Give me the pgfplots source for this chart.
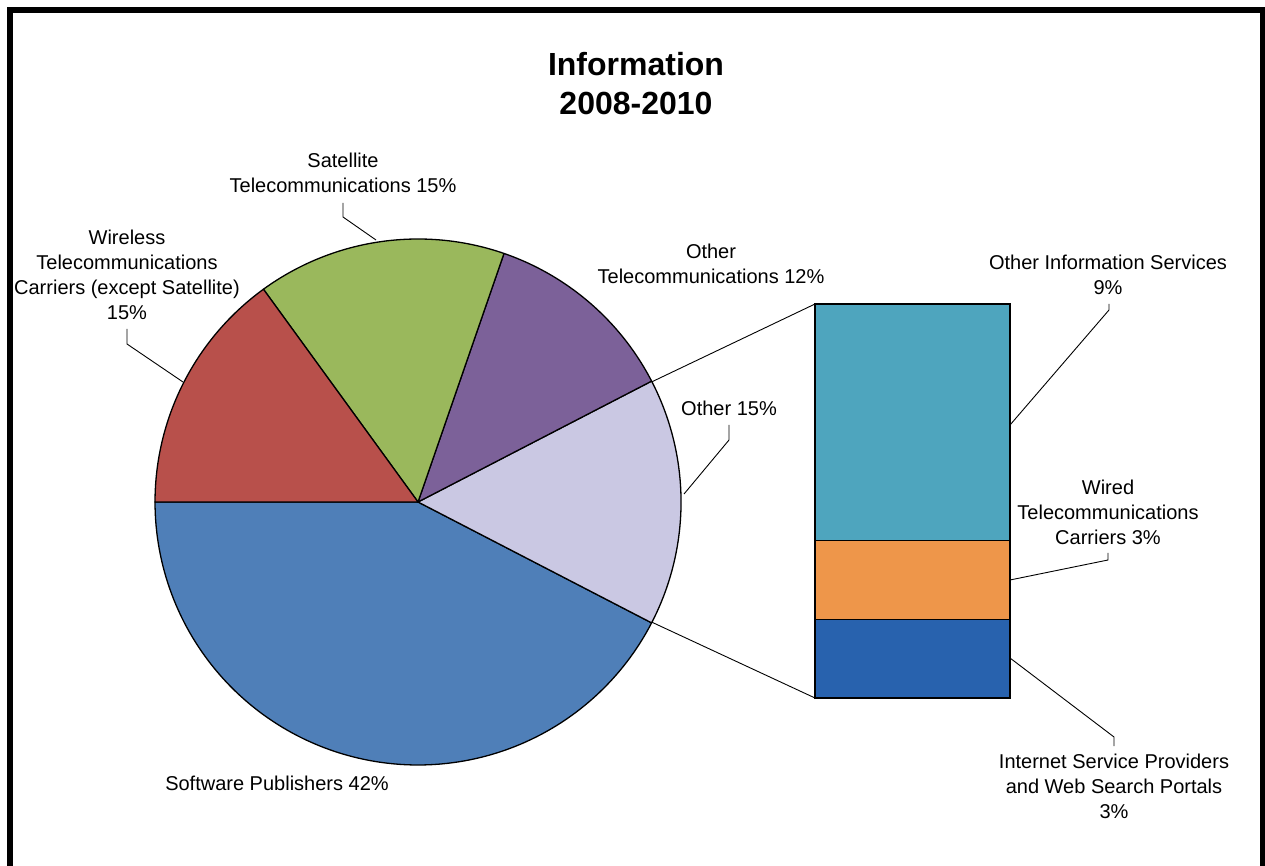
\documentclass[border=0pt]{standalone}
\usepackage{pgfplots}
\pgfplotsset{compat=1.18}
\usepackage{fontspec}
\setmainfont{Liberation Sans}

\definecolor{cSoft}{HTML}{4F7FB8}
\definecolor{cWire}{HTML}{B8504B}
\definecolor{cSat}{HTML}{9AB85C}
\definecolor{cOTel}{HTML}{7C6199}
\definecolor{cOther}{HTML}{CAC8E3}
\definecolor{cOInfo}{HTML}{4EA5BE}
\definecolor{cWired}{HTML}{EE964A}
\definecolor{cISP}{HTML}{2862AE}

% pie shares in percent, laid out counterclockwise from 180 deg
\def\sSoft{42.4}
\def\sOther{15.2}
\def\sOTel{12.1}
\def\sSat{15.3}
\def\sWire{15.0}
\pgfmathsetmacro\aA{180}
\pgfmathsetmacro\aB{\aA+3.6*\sSoft}
\pgfmathsetmacro\aC{\aB+3.6*\sOther}
\pgfmathsetmacro\aD{\aC+3.6*\sOTel}
\pgfmathsetmacro\aE{\aD+3.6*\sSat}
\pgfmathsetmacro\aF{\aE+3.6*\sWire}

\tikzset{
  lbl/.style  = {font=\fontsize{20}{25}\selectfont, align=center, inner sep=0pt},
  lead/.style = {black, line width=0.9pt},
  slice/.style = {draw=black, line width=1.3pt, line join=round, samples=120},
}

\begin{document}
\begin{tikzpicture}
\useasboundingbox (0,0) rectangle (1265pt,865pt);

% pie, one axis unit = one pixel, centre at the origin
\begin{axis}[
  at={(0,0)}, anchor=south west,
  width=1265pt, height=865pt, scale only axis,
  xmin=-418, xmax=847, ymin=-363, ymax=502,
  hide axis, clip=false,
]
\addplot[slice, fill=cSoft,  domain=\aA:\aB] ({263*cos(x)},{263*sin(x)}) -- (axis cs:0,0) -- cycle;
\addplot[slice, fill=cOther, domain=\aB:\aC] ({263*cos(x)},{263*sin(x)}) -- (axis cs:0,0) -- cycle;
\addplot[slice, fill=cOTel,  domain=\aC:\aD] ({263*cos(x)},{263*sin(x)}) -- (axis cs:0,0) -- cycle;
\addplot[slice, fill=cSat,   domain=\aD:\aE] ({263*cos(x)},{263*sin(x)}) -- (axis cs:0,0) -- cycle;
\addplot[slice, fill=cWire,  domain=\aE:\aF] ({263*cos(x)},{263*sin(x)}) -- (axis cs:0,0) -- cycle;
\end{axis}

% bar of the "Other" slice
\begin{axis}[
  at={(815pt,167pt)}, anchor=south west,
  width=195pt, height=394pt, scale only axis,
  xmin=-0.5, xmax=0.5, ymin=0, ymax=15,
  ybar stacked, bar width=195pt,
  hide axis, clip=false,
]
\addplot[fill=cISP,   draw=black, line width=1.3pt] coordinates {(0,3)};
\addplot[fill=cWired, draw=black, line width=1.3pt] coordinates {(0,3)};
\addplot[fill=cOInfo, draw=black, line width=1.3pt] coordinates {(0,9)};
\end{axis}

% labels and leader lines, in pixel coordinates (y downwards)
\begin{scope}[x=1pt, y=-1pt, yshift=865pt]
  \draw[line width=6pt] (10,880) -- (10,10) -- (1263,10) -- (1263,880);

  \node[font=\fontsize{32}{39}\selectfont\bfseries, align=center, inner sep=0pt]
    at (636,84) {Information\\2008-2010};

  \draw[lead] (651.9,381.8) -- (815,304);
  \draw[lead] (651.9,622.2) -- (815,698);

  \node[lbl] at (343,173) {Satellite\\Telecommunications 15\%};
  \draw[lead] (343,203) -- (343,217) -- (376,240);

  \node[lbl] at (127,275) {Wireless\\Telecommunications\\Carriers (except Satellite)\\15\%};
  \draw[lead] (127,329) -- (127,344) -- (183,382);

  \node[lbl] at (711,264) {Other\\Telecommunications 12\%};

  \node[lbl] at (729,408) {Other 15\%};
  \draw[lead] (729,425) -- (729,440) -- (684,494);

  \node[lbl] at (1108,275) {Other Information Services\\9\%};
  \draw[lead] (1109,304) -- (1109,310) -- (1010,425);

  \node[lbl] at (1108,512) {Wired\\Telecommunications\\Carriers 3\%};
  \draw[lead] (1108,553) -- (1108,560) -- (1010,580);

  \node[lbl] at (1114,786) {Internet Service Providers\\and Web Search Portals\\3\%};
  \draw[lead] (1010,658) -- (1114,737) -- (1114,746);

  \node[lbl] at (277,783) {Software Publishers 42\%};
\end{scope}
\end{tikzpicture}
\end{document}
